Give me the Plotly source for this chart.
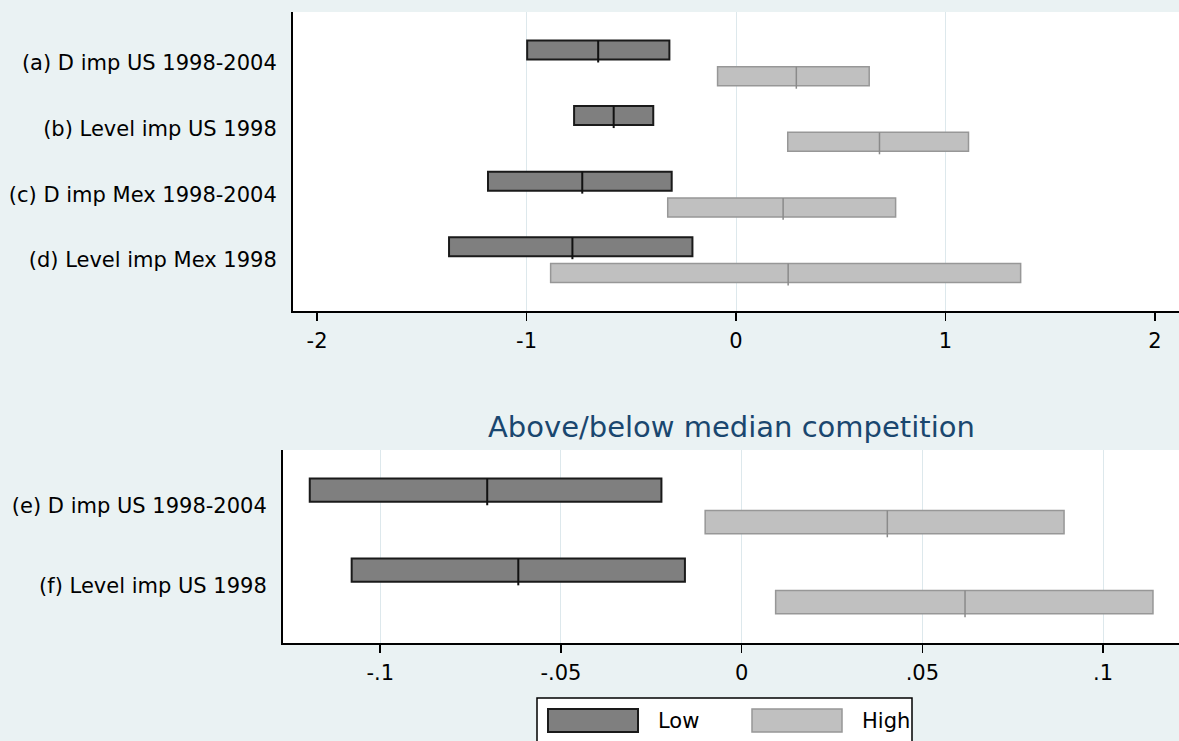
import plotly.graph_objects as go

# ---------------- data ----------------
series_names = ["Low", "High"]

top_labels = ["(a) D imp US 1998-2004", "(b) Level imp US 1998",
              "(c) D imp Mex 1998-2004", "(d) Level imp Mex 1998"]
top_low_lo = [-0.997, -0.773, -1.184, -1.370]
top_low_hi = [-0.318, -0.395, -0.307, -0.208]
top_low_med = [-0.658, -0.584, -0.734, -0.781]
top_high_lo = [-0.088, 0.247, -0.326, -0.885]
top_high_hi = [0.636, 1.110, 0.762, 1.359]
top_high_med = [0.288, 0.685, 0.225, 0.249]
top_ticks = [-2, -1, 0, 1, 2]
top_ticktext = ["-2", "-1", "0", "1", "2"]

bot_title = "Above/below median competition"
bot_labels = ["(e) D imp US 1998-2004", "(f) Level imp US 1998"]
bot_low_lo = [-0.1195, -0.1079]
bot_low_hi = [-0.0222, -0.0157]
bot_low_med = [-0.0704, -0.0618]
bot_high_lo = [-0.0101, 0.0094]
bot_high_hi = [0.0892, 0.1138]
bot_high_med = [0.0403, 0.0618]
bot_ticks = [-0.1, -0.05, 0, 0.05, 0.1]
bot_ticktext = ["-.1", "-.05", "0", ".05", ".1"]

# ---------------- style ----------------
W, H = 1179, 741
BG = "#eaf2f3"
GRID = "#dde8ec"
FONT = "DejaVu Sans"
fill = {"Low": "#7f7f7f", "High": "#c0c0c0"}
edge = {"Low": "#1a1a1a", "High": "#979797"}
medc = {"Low": "#111111", "High": "#8a8a8a"}
edgew = {"Low": 2, "High": 1.5}
medw = {"Low": 2, "High": 1.5}
BW = 0.29
CEN = {"Low": -0.2, "High": 0.2}

fig = go.Figure()


def add_panel(xa, ya, n, los, his, meds):
    pos = list(range(n))
    for name in series_names:
        lo, hi, md = los[name], his[name], meds[name]
        fig.add_trace(go.Bar(
            orientation="h", y=pos, base=lo,
            x=[h - l for l, h in zip(lo, hi)],
            width=BW, offset=CEN[name] - BW / 2,
            marker=dict(color=fill[name], line=dict(color=edge[name], width=edgew[name])),
            xaxis=xa, yaxis=ya, showlegend=False, hoverinfo="skip"))
        xs, ys = [], []
        for p, m in zip(pos, md):
            c = p + CEN[name]
            xs += [m, m, None]
            ys += [c - BW / 2, c + BW / 2 + 0.045, None]
        fig.add_trace(go.Scatter(
            x=xs, y=ys, mode="lines", line=dict(color=medc[name], width=medw[name]),
            xaxis=xa, yaxis=ya, showlegend=False, hoverinfo="skip"))


add_panel("x", "y", len(top_labels),
          {"Low": top_low_lo, "High": top_high_lo},
          {"Low": top_low_hi, "High": top_high_hi},
          {"Low": top_low_med, "High": top_high_med})
add_panel("x2", "y2", len(bot_labels),
          {"Low": bot_low_lo, "High": bot_high_lo},
          {"Low": bot_low_hi, "High": bot_high_hi},
          {"Low": bot_low_med, "High": bot_high_med})

axis_common = dict(showline=True, linecolor="#000000", linewidth=2, zeroline=False,
                   automargin=False, fixedrange=True)
xcommon = dict(axis_common, ticks="outside", ticklen=8, tickwidth=1.5, tickcolor="#000000",
               tickfont=dict(family=FONT, size=21, color="#000000"), ticklabelstandoff=2)
ycommon = dict(axis_common, ticks="", showgrid=False,
               tickfont=dict(family=FONT, size=21, color="#000000"), ticklabelstandoff=10)

fig.update_layout(
    width=W, height=H,
    margin=dict(l=0, r=0, t=0, b=0),
    paper_bgcolor=BG, plot_bgcolor="#ffffff",
    barmode="overlay",
    font=dict(family=FONT, color="#000000"),
    xaxis=dict(xcommon, domain=[293 / W, 1.0], anchor="y", range=[-2.115, 2.115],
               tickmode="array", tickvals=top_ticks, ticktext=top_ticktext,
               showgrid=False,
               minor=dict(tickmode="array", tickvals=top_ticks[1:-1], showgrid=True,
                          gridcolor=GRID, gridwidth=1, ticks="")),
    yaxis=dict(ycommon, domain=[1 - 311 / H, 1 - 12 / H], anchor="x",
               range=[len(top_labels) - 1 + 0.78, -0.78],
               tickmode="array", tickvals=list(range(len(top_labels))), ticktext=top_labels),
    xaxis2=dict(xcommon, domain=[283 / W, 1.0], anchor="y2", range=[-0.1269, 0.121],
                tickmode="array", tickvals=bot_ticks, ticktext=bot_ticktext,
                showgrid=True, gridcolor=GRID, gridwidth=1),
    yaxis2=dict(ycommon, domain=[1 - 643 / H, 1 - 450 / H], anchor="x2",
                range=[len(bot_labels) - 1 + 0.71, -0.70],
                tickmode="array", tickvals=list(range(len(bot_labels))), ticktext=bot_labels),
)

# subtitle of the lower panel
fig.add_annotation(text=bot_title, xref="paper", yref="paper", x=731 / W, y=1 - 427 / H,
                   xanchor="center", yanchor="middle", showarrow=False,
                   font=dict(family=FONT, size=29, color="#1a476f"))

# legend box (built from series names / colours)
fig.add_shape(type="rect", xref="paper", yref="paper",
              x0=537 / W, x1=912 / W, y0=1 - 760 / H, y1=1 - 698 / H,
              fillcolor="#ffffff", line=dict(color="#000000", width=1.5), layer="above")
sw_x = [548, 752]
for i, name in enumerate(series_names):
    x0 = sw_x[i]
    fig.add_shape(type="rect", xref="paper", yref="paper",
                  x0=x0 / W, x1=(x0 + 90) / W, y0=1 - 732 / H, y1=1 - 709 / H,
                  fillcolor=fill[name], line=dict(color=edge[name], width=edgew[name]),
                  layer="above")
    fig.add_annotation(text=name, xref="paper", yref="paper", x=(x0 + 108) / W,
                       y=1 - 721 / H, xanchor="left", yanchor="middle", showarrow=False,
                       font=dict(family=FONT, size=21, color="#000000"))

fig.write_html("out.html", config={"displayModeBar": False, "staticPlot": True},
               post_script="document.body.style.margin='0';"
                           "document.body.style.overflow='hidden';"
                           "document.documentElement.style.background='" + BG + "';")
